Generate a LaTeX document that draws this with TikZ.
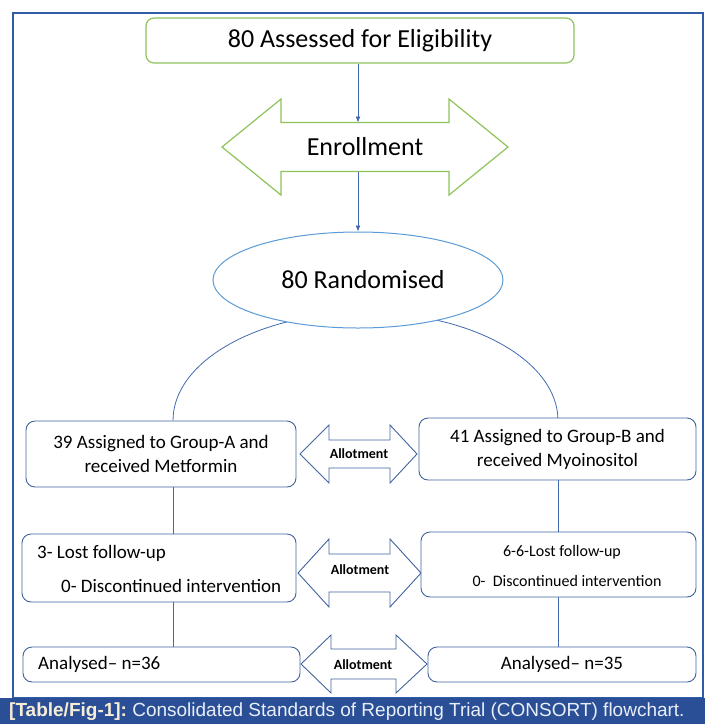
\documentclass[tikz,border=0pt]{standalone}
\usepackage{fontspec}
\setmainfont{Carlito}
\newfontfamily\capfont{Liberation Sans}
\usetikzlibrary{arrows.meta,shapes.geometric,calc}

\definecolor{boxgreen}{HTML}{8DC45A}
\definecolor{ovalblue}{HTML}{5B9BD5}
\definecolor{boxblue}{HTML}{41639E}
\definecolor{linkblue}{HTML}{4169B0}
\definecolor{frameblue}{HTML}{2F5CA6}
\definecolor{bandblue}{HTML}{2A4F96}
\definecolor{capgold}{HTML}{F6EDD6}
\definecolor{capwhite}{HTML}{E9EEF7}

\pgfdeclarelayer{background}
\pgfsetlayers{background,main}

\tikzset{
  flowbox/.style={draw=boxblue, line width=0.9pt, rounded corners=9pt, fill=white,
    align=center, inner sep=0pt},
  greenbox/.style={draw=boxgreen, line width=1.2pt, rounded corners=8pt, fill=white,
    inner sep=0pt},
  oval/.style={ellipse, draw=ovalblue, line width=1pt, fill=white, inner sep=0pt},
  link/.style={draw=linkblue, line width=0.8pt},
  linkarrow/.style={link, -{Latex[length=6pt,width=5pt]}},
  twoway/.style={draw=boxblue, line width=0.9pt, fill=white, line join=miter},
  greenway/.style={draw=boxgreen, line width=1.2pt, fill=white, line join=miter},
  bigtext/.style={font=\fontsize{26}{30}\selectfont},
  midtext/.style={font=\fontsize{19}{24}\selectfont},
  smalltext/.style={font=\fontsize{16}{20}\selectfont},
  tagtext/.style={font=\bfseries\fontsize{14}{16}\selectfont},
}

% double-headed block arrow:
% #1 left tip x, #2 left head base x, #3 right head base x, #4 right tip x,
% #5 centre y, #6 half height of heads, #7 half height of shaft
\newcommand\twowaypath[7]{%
  (#1,{-(#5)}) -- (#2,{-(#5)+(#6)}) -- (#2,{-(#5)+(#7)}) -- (#3,{-(#5)+(#7)})
  -- (#3,{-(#5)+(#6)}) -- (#4,{-(#5)}) -- (#3,{-(#5)-(#6)}) -- (#3,{-(#5)-(#7)})
  -- (#2,{-(#5)-(#7)}) -- (#2,{-(#5)-(#6)}) -- cycle}

\begin{document}
\begin{tikzpicture}[x=1pt,y=1pt]
\useasboundingbox (0,0) rectangle (705,-724);

% outer frame and caption band
\draw[frameblue, line width=1.2pt] (13,-13) rectangle (703,-698);
\fill[bandblue] (0,-698) rectangle (705,-724);
\node[anchor=west, inner sep=0pt, font=\capfont\fontsize{19}{22}\selectfont]
  (caption) at (9,-711.5)
  {\textcolor{capgold}{\bfseries [Table/Fig-1]:}\ \textcolor{capwhite}{Consolidated Standards of Reporting Trial (CONSORT) flowchart.}};

% enrollment block arrow
\draw[greenway] \twowaypath{222}{281}{449}{508}{147}{48}{24.5};
\node[bigtext] (enrol) at (365,-147) {Enrollment};
\coordinate (enrTop) at (358,-122.5);
\coordinate (enrBot) at (358,-171.5);

% allotment block arrows
\draw[twoway] \twowaypath{300}{329}{390}{417}{454}{29}{14};
\node[tagtext] (allot1) at (359,-454) {Allotment};
\draw[twoway] \twowaypath{298}{329}{390}{421}{573}{34}{19};
\node[tagtext] (allot2) at (360,-570) {Allotment};
\draw[twoway] \twowaypath{301}{331}{396}{427}{664}{29}{15};
\node[tagtext] (allot3) at (363,-665) {Allotment};

% boxes
\node[greenbox, bigtext, minimum width=428pt, minimum height=45pt]
  (assess) at (360,-40.5) {80 Assessed for Eligibility};
\node[oval, bigtext, minimum width=290pt, minimum height=96pt]
  (rand) at (358,-280) {\hspace*{10pt}80 Randomised};

\node[flowbox, midtext, minimum width=270pt, minimum height=66pt]
  (boxA) at (161,-454) {39 Assigned to Group-A and\\received Metformin};
\node[flowbox, midtext, minimum width=277pt, minimum height=62pt]
  (boxB) at (557.5,-449) {41 Assigned to Group-B and\\received Myoinositol};

\node[flowbox, minimum width=274pt, minimum height=68pt] (boxA2) at (159,-568) {};
\node[midtext, anchor=west, inner sep=0pt] (lostA) at (37,-553) {3- Lost follow-up};
\node[midtext, anchor=west, inner sep=0pt] (discA) at (61,-586) {0- Discontinued intervention};

\node[flowbox, minimum width=275pt, minimum height=65pt] (boxB2) at (558.5,-564.5) {};
\node[smalltext] (lostB) at (562,-552) {6-6-Lost follow-up};
\node[smalltext] (discB) at (567,-581) {0-\ \ Discontinued intervention};

\node[flowbox, minimum width=277pt, minimum height=35pt] (boxA3) at (161.5,-664.5) {};
\node[midtext, anchor=west, inner sep=0pt] (anaA) at (38,-664) {Analysed– n=36};
\node[flowbox, midtext, minimum width=268pt, minimum height=35pt]
  (boxB3) at (562,-664.5) {Analysed– n=35};

% connectors
\coordinate (lx) at (173,0);
\coordinate (rx) at (558,0);
\begin{pgfonlayer}{background}
  \draw[link] (boxA.north -| lx) arc[start angle=180, end angle=0,
    x radius=192.5pt, y radius=108pt];
  \draw[link] (boxA.south -| lx) -- (boxA2.north -| lx);
  \draw[link] (boxA2.south -| lx) -- (boxA3.north -| lx);
  \draw[link] (boxB.south -| rx) -- (boxB2.north -| rx);
  \draw[link] (boxB2.south -| rx) -- (boxB3.north -| rx);
\end{pgfonlayer}
\draw[linkarrow] (assess.south -| enrTop) -- (enrTop);
\draw[linkarrow] (enrBot) -- (rand.north);
\end{tikzpicture}
\end{document}
